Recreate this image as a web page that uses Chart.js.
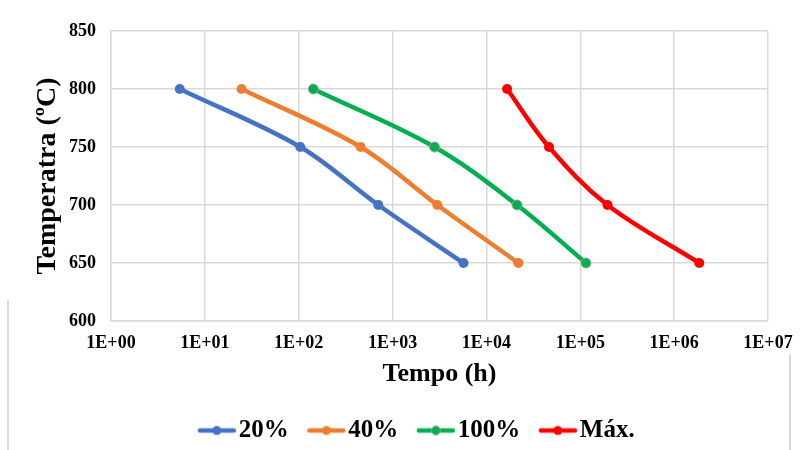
<!DOCTYPE html>
<html>
<head>
<meta charset="utf-8">
<script src="https://cdn.jsdelivr.net/npm/chart.js@4"></script>
<style>
  body { margin: 0; background: #fff; }
  #wrap { width: 800px; height: 450px; position: relative; }
</style>
</head>
<body>
<div id="wrap"><canvas id="grafico"></canvas></div>
<script>
// Temperaturas (ºC) comuns a todas as séries
const temperaturas = [800, 750, 700, 650];

// Tempo (h) de cada série
const tempo20 = [5.4, 104, 705, 5700];
const tempo40 = [24.6, 457, 3000, 21900];
const tempo100 = [143, 2800, 21200, 115000];
const tempoMax = [16600, 46400, 195000, 1850000];

const nomesSeries = ['20%', '40%', '100%', 'Máx.'];
const coresSeries = ['#4472C4', '#ED7D31', '#00B050', '#FF0000'];

// Ticks dos eixos
const ticksX = [1, 10, 100, 1000, 10000, 100000, 1000000, 10000000];
const ticksY = [600, 650, 700, 750, 800, 850];

const serif = '"Liberation Serif", "Times New Roman", serif';

function pontos(tempos) {
    return tempos.map((t, i) => ({ x: t, y: temperaturas[i] }));
}

// Ícone da legenda: linha com marcador no meio
function iconeLegenda(cor, bordaCinza) {
    const c = document.createElement('canvas');
    c.width = 40; c.height = 12;
    const ctx = c.getContext('2d');
    ctx.strokeStyle = cor;
    ctx.lineWidth = 4.5;
    ctx.lineCap = 'round';
    ctx.beginPath();
    ctx.moveTo(3, 6); ctx.lineTo(37, 6);
    ctx.stroke();
    ctx.fillStyle = cor;
    ctx.beginPath();
    ctx.arc(20, 6, 4.5, 0, Math.PI * 2);
    ctx.fill();
    if (bordaCinza) {
        ctx.strokeStyle = '#A0A0A0';
        ctx.lineWidth = 1;
        ctx.stroke();
    }
    return c;
}

const series = [tempo20, tempo40, tempo100, tempoMax];
const datasets = series.map((s, i) => ({
    label: nomesSeries[i],
    data: pontos(s),
    borderColor: coresSeries[i],
    backgroundColor: coresSeries[i],
    pointBorderColor: i === 2 ? '#A0A0A0' : coresSeries[i],
    pointBorderWidth: i === 2 ? 1 : 0,
    pointRadius: 5,
    borderWidth: 4.5,
    tension: 0.35,
    pointStyle: 'circle',
    legendIcon: iconeLegenda(coresSeries[i], i === 2)
}));

// Bordas laterais cinzentas do quadro + ajuste da posição da legenda
const ajustes = {
    id: 'ajustes',
    afterLayout(chart) {
        // legenda um pouco deslocada para a direita, como no original
        chart.legend.left += 37;
        chart.legend.right += 37;
    },
    afterDraw(chart) {
        const ctx = chart.ctx;
        ctx.save();
        ctx.strokeStyle = '#D9D9D9';
        ctx.lineWidth = 2;
        ctx.beginPath();
        ctx.moveTo(8, 300); ctx.lineTo(8, 450);
        ctx.moveTo(790, 354); ctx.lineTo(790, 450);
        ctx.stroke();
        ctx.restore();
    }
};

new Chart(document.getElementById('grafico'), {
    type: 'line',
    data: { datasets: datasets },
    plugins: [ajustes],
    options: {
        responsive: true,
        maintainAspectRatio: false,
        animation: false,
        layout: { padding: { left: 0, right: 32, top: 31, bottom: -3 } },
        plugins: {
            tooltip: { enabled: false },
            legend: {
                position: 'bottom',
                labels: {
                    usePointStyle: true,
                    pointStyleWidth: 19,
                    color: '#000',
                    font: { family: serif, size: 25, weight: 'bold' },
                    padding: 28,
                    generateLabels: (chart) => chart.data.datasets.map((d, i) => ({
                        text: d.label,
                        pointStyle: d.legendIcon,
                        fillStyle: d.borderColor,
                        strokeStyle: d.borderColor,
                        lineWidth: 0,
                        fontColor: '#000',
                        datasetIndex: i
                    }))
                }
            }
        },
        scales: {
            x: {
                type: 'logarithmic',
                min: 1,
                max: 10000000,
                afterBuildTicks: (axis) => { axis.ticks = ticksX.map(v => ({ value: v })); },
                afterFit: (axis) => {
                    axis.height = 69;
                    axis.paddingLeft = 0;
                    axis.paddingRight = 0;
                },
                ticks: {
                    color: '#000',
                    font: { family: serif, size: 18, weight: 'bold' },
                    maxRotation: 0,
                    padding: 12,
                    callback: (v) => '1E+' + String(Math.round(Math.log10(v))).padStart(2, '0')
                },
                grid: { color: '#D9D9D9', lineWidth: 1.5, drawTicks: false },
                border: { color: '#D9D9D9', width: 1.5 },
                title: { display: true, text: 'Tempo (h)', color: '#000', font: { family: serif, size: 26, weight: 'bold' }, padding: { top: 0, bottom: 0 } }
            },
            y: {
                min: 600,
                max: 850,
                afterBuildTicks: (axis) => { axis.ticks = ticksY.map(v => ({ value: v })); },
                afterFit: (axis) => { axis.width = 111; },
                ticks: { color: '#000', font: { family: serif, size: 18, weight: 'bold' }, padding: 15 },
                grid: { color: '#D9D9D9', lineWidth: 1.5, drawTicks: false },
                border: { color: '#D9D9D9', width: 1.5 },
                title: { display: true, text: 'Temperatra (ºC)', color: '#000', font: { family: serif, size: 28, weight: 'bold' }, padding: { top: 31, bottom: 0 } }
            }
        }
    }
});
</script>
</body>
</html>
